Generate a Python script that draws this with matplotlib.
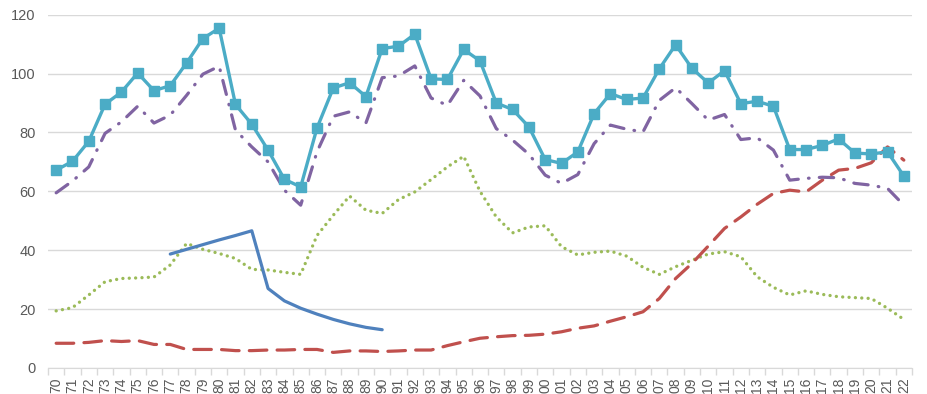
import numpy as np
import matplotlib.pyplot as plt

years = [f"{y:02d}" for y in list(range(70, 100)) + list(range(0, 23))]

total = [67.2, 70.2, 77.0, 89.6, 93.7, 100.2, 94.2, 95.9, 103.6, 111.9,
         115.4, 89.5, 82.8, 74.0, 64.1, 61.5, 81.5, 95.1, 96.9, 92.2,
         108.5, 109.3, 113.4, 98.2, 98.0, 108.2, 104.3, 90.0, 87.8, 81.9,
         70.8, 69.5, 73.4, 86.4, 93.2, 91.2, 91.7, 101.6, 109.8, 101.8,
         96.8, 101.0, 89.8, 90.6, 88.9, 74.2, 74.2, 75.6, 77.8, 73.0,
         72.7, 73.4, 65.2]

purple = [59.5, 63.5, 68.3, 79.7, 83.6, 88.9, 83.2, 85.9, 92.6, 99.8,
          102.5, 80.8, 75.1, 70.0, 60.4, 55.3, 73.4, 85.5, 87.0, 83.2,
          98.6, 99.2, 102.6, 91.7, 89.2, 97.7, 92.4, 81.3, 77.4, 72.6,
          65.5, 62.7, 65.7, 76.2, 82.5, 81.1, 80.2, 90.9, 95.2, 89.8,
          84.2, 86.1, 77.6, 78.2, 74.0, 63.8, 64.4, 64.8, 64.6, 62.7,
          62.1, 61.0, 55.3]

green = [19.4, 20.5, 24.8, 29.3, 30.4, 30.6, 30.9, 35.0, 42.3, 40.3,
         38.9, 37.2, 33.5, 33.3, 32.5, 31.8, 45.0, 51.9, 58.4, 53.6,
         52.5, 57.2, 59.8, 64.0, 68.3, 71.9, 60.0, 51.3, 45.9, 47.9,
         48.3, 41.2, 38.4, 39.3, 39.7, 38.0, 34.2, 31.8, 34.4, 36.6,
         38.7, 39.5, 37.8, 31.0, 27.4, 24.8, 26.2, 25.0, 24.2, 23.9,
         23.6, 20.3, 16.5]

red = [8.4, 8.4, 8.7, 9.3, 9.0, 9.3, 8.0, 8.0, 6.3, 6.3,
       6.3, 5.9, 5.9, 6.1, 6.1, 6.3, 6.3, 5.3, 5.8, 5.8,
       5.6, 5.8, 6.1, 6.1, 7.6, 8.9, 10.1, 10.6, 11.0, 11.1,
       11.5, 12.3, 13.5, 14.3, 15.9, 17.4, 19.1, 23.6, 30.4, 35.5,
       41.4, 47.4, 51.3, 55.6, 59.3, 60.4, 59.8, 63.8, 67.2, 67.8,
       69.7, 75.1, 70.6]

# blue series only runs 77..90
blue_years = years[7:21]
blue = [38.7, 40.3, 41.9, 43.5, 45.0, 46.6, 27.0, 22.8, 20.3, 18.3,
        16.5, 15.0, 13.8, 13.0]

x = np.arange(len(years))
xb = np.array([years.index(y) for y in blue_years])

plt.rcParams['font.family'] = ['Liberation Sans', 'DejaVu Sans']

fig = plt.figure(figsize=(9.27, 3.94), dpi=100)
ax = fig.add_axes([0.0518, 0.066, 0.932, 0.8967])

lw = 2.3
ax.plot(x, green, color='#9bbb59', lw=2.4, linestyle=(0, (0.01, 1.9)),
        dash_capstyle='round', solid_capstyle='round', zorder=3)
ax.plot(x, red, color='#c0504d', lw=lw, linestyle=(0, (5.5, 3.2)),
        dash_capstyle='round', zorder=4)
ax.plot(xb, blue, color='#4f81bd', lw=lw, solid_capstyle='round', zorder=4)
ax.plot(x, purple, color='#8064a2', lw=lw, linestyle=(0, (4.5, 3.2, 0.2, 3.2)),
        dash_capstyle='round', zorder=5)
ax.plot(x, total, color='#4bacc6', lw=2.4, marker='s', markersize=6.5,
        zorder=6)

ax.set_xlim(-0.5, len(years) - 0.5)
ax.set_ylim(0, 120)
ax.set_yticks(range(0, 121, 20))
ax.grid(axis='y', color='#d9d9d9', lw=1)
ax.set_axisbelow(True)

ax.set_xticks(x)
ax.set_xticklabels(years, rotation=90)
ax.set_xticks(np.arange(-0.5, len(years), 1), minor=True)
ax.tick_params(axis='x', which='major', length=0, pad=7, labelsize=10,
               labelcolor='#595959')
ax.tick_params(axis='x', which='minor', length=5, color='#d9d9d9', width=1)
ax.tick_params(axis='y', length=0, pad=9, labelsize=10.5, labelcolor='#595959')

for s in ['left', 'right', 'top']:
    ax.spines[s].set_visible(False)
ax.spines['bottom'].set_color('#d9d9d9')

fig.savefig('out.png', dpi=100)
